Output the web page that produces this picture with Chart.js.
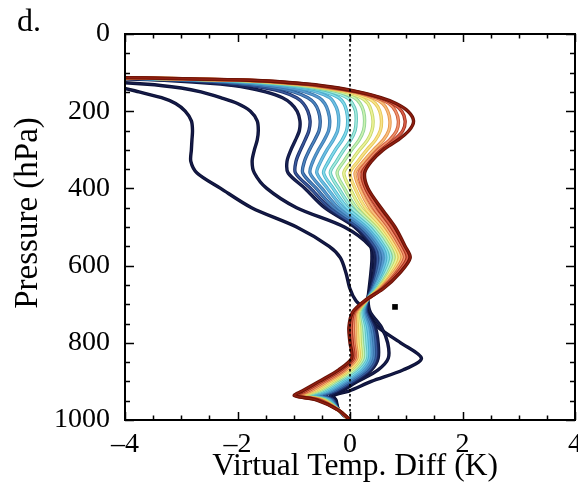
<!DOCTYPE html>
<html lang="en">
<head>
<meta charset="UTF-8">
<title>Virtual Temp. Diff profiles</title>
<script src="https://cdn.jsdelivr.net/npm/chart.js"></script>
<style>
  html, body { margin: 0; padding: 0; background: #fff; }
  #wrap { position: relative; width: 578px; height: 484px; }
  #panel { position: absolute; left: 17px; top: 2px; font: 32px/1.15 "Liberation Serif", "Times New Roman", serif; color: #000; }
</style>
</head>
<body>
<div id="wrap">
  <canvas id="chart" width="578" height="484"></canvas>
  <div id="panel">d.</div>
</div>
<script>
// pressure levels (hPa) shared by every profile
const levels = [110, 120, 130, 140, 150, 165, 180, 200, 225, 250, 275, 300, 330, 360, 400, 450, 500,
                550, 580, 620, 660, 690, 720, 760, 800, 840, 870, 900, 925, 937, 948, 975, 1000];

// virtual temperature difference (K) at each level, one array per profile
const curve01 = [-9, -7, -5.2, -4.05, -3.75, -3.35, -3.1, -2.93, -2.82, -2.8, -2.81, -2.82, -2.83, -2.72, -2.3, -1.75, -0.95, -0.37, -0.17, -0.07, 0.0, 0.1, 0.3, 0.5, 0.9, 1.27, 0.95, 0.38, -0.02, -0.3, -0.25, -0.2, 0];
const curve02 = [-8, -5, -3.6, -3.0, -2.65, -2.3, -2.0, -1.77, -1.65, -1.63, -1.65, -1.7, -1.74, -1.7, -1.48, -0.95, -0.1, 0.36, 0.39, 0.37, 0.34, 0.32, 0.36, 0.56, 0.67, 0.68, 0.5, 0.14, -0.15, -0.3, -0.26, -0.2, 0];
const curve03 = [-5.2, -3.3, -2.3, -1.8, -1.5, -1.2, -1.05, -0.94, -0.89, -0.9, -0.97, -1.05, -1.12, -1.1, -0.8, -0.45, 0.08, 0.38, 0.44, 0.42, 0.36, 0.31, 0.3, 0.45, 0.5, 0.5, 0.38, 0.1, -0.2, -0.35, -0.28, -0.2, 0];
const curve04 = [-5.2, -3.0, -2.0, -1.5, -1.2, -0.95, -0.83, -0.75, -0.71, -0.73, -0.8, -0.88, -0.96, -0.97, -0.7, -0.37, 0.13, 0.43, 0.49, 0.46, 0.38, 0.31, 0.29, 0.41, 0.46, 0.46, 0.34, 0.05, -0.25, -0.45, -0.3, -0.2, 0];
const curve05 = [-5.2, -2.8, -1.8, -1.3, -1.0, -0.75, -0.63, -0.56, -0.53, -0.55, -0.63, -0.72, -0.81, -0.84, -0.6, -0.29, 0.19, 0.48, 0.54, 0.49, 0.4, 0.3, 0.27, 0.38, 0.42, 0.42, 0.29, 0.0, -0.3, -0.52, -0.33, -0.2, 0];
const curve06 = [-5.2, -2.6, -1.6, -1.1, -0.8, -0.55, -0.45, -0.39, -0.36, -0.38, -0.46, -0.56, -0.66, -0.71, -0.5, -0.21, 0.24, 0.52, 0.59, 0.53, 0.42, 0.3, 0.25, 0.34, 0.38, 0.38, 0.25, -0.05, -0.35, -0.58, -0.35, -0.2, 0];
const curve07 = [-5.2, -2.45, -1.4, -0.9, -0.6, -0.36, -0.28, -0.22, -0.2, -0.22, -0.3, -0.41, -0.52, -0.59, -0.4, -0.13, 0.3, 0.57, 0.64, 0.56, 0.43, 0.3, 0.23, 0.31, 0.34, 0.34, 0.2, -0.1, -0.4, -0.64, -0.37, -0.2, 0];
const curve08 = [-5.2, -2.3, -1.3, -0.75, -0.45, -0.2, -0.11, -0.06, -0.04, -0.06, -0.14, -0.26, -0.38, -0.47, -0.3, -0.05, 0.35, 0.62, 0.68, 0.6, 0.45, 0.3, 0.21, 0.27, 0.3, 0.3, 0.16, -0.15, -0.45, -0.7, -0.4, -0.2, 0];
const curve09 = [-5.2, -2.2, -1.2, -0.65, -0.32, -0.05, 0.04, 0.1, 0.11, 0.09, 0.01, -0.11, -0.24, -0.35, -0.2, 0.03, 0.41, 0.66, 0.73, 0.63, 0.47, 0.3, 0.19, 0.24, 0.26, 0.27, 0.11, -0.2, -0.5, -0.75, -0.42, -0.2, 0];
const curve10 = [-5.2, -2.1, -1.1, -0.55, -0.2, 0.08, 0.18, 0.24, 0.26, 0.24, 0.16, 0.03, -0.11, -0.23, -0.1, 0.11, 0.46, 0.71, 0.78, 0.67, 0.49, 0.3, 0.17, 0.2, 0.22, 0.23, 0.07, -0.25, -0.55, -0.8, -0.45, -0.2, 0];
const curve11 = [-5.2, -2.0, -1.0, -0.48, -0.1, 0.2, 0.32, 0.38, 0.41, 0.39, 0.31, 0.17, 0.02, -0.11, 0.0, 0.19, 0.52, 0.76, 0.83, 0.7, 0.5, 0.29, 0.15, 0.17, 0.18, 0.19, 0.02, -0.3, -0.6, -0.85, -0.47, -0.2, 0];
const curve12 = [-5.2, -1.95, -0.95, -0.42, -0.02, 0.3, 0.45, 0.53, 0.56, 0.54, 0.45, 0.3, 0.14, 0.0, 0.09, 0.27, 0.57, 0.8, 0.88, 0.74, 0.52, 0.29, 0.13, 0.13, 0.14, 0.16, -0.02, -0.35, -0.65, -0.89, -0.5, -0.2, 0];
const curve13 = [-5.2, -1.9, -0.88, -0.35, 0.05, 0.4, 0.58, 0.67, 0.71, 0.69, 0.59, 0.42, 0.24, 0.09, 0.17, 0.35, 0.63, 0.85, 0.93, 0.77, 0.54, 0.29, 0.11, 0.1, 0.1, 0.12, -0.07, -0.4, -0.7, -0.92, -0.52, -0.2, 0];
const curve14 = [-5.2, -1.85, -0.82, -0.3, 0.1, 0.47, 0.69, 0.81, 0.86, 0.83, 0.7, 0.5, 0.31, 0.16, 0.23, 0.42, 0.68, 0.89, 0.97, 0.81, 0.56, 0.28, 0.09, 0.06, 0.07, 0.09, -0.11, -0.45, -0.75, -0.95, -0.55, -0.2, 0];
const curve15 = [-5.2, -1.8, -0.78, -0.25, 0.13, 0.52, 0.76, 0.92, 0.98, 0.94, 0.78, 0.56, 0.36, 0.22, 0.28, 0.49, 0.74, 0.94, 1.02, 0.84, 0.57, 0.28, 0.07, 0.02, 0.04, 0.06, -0.16, -0.5, -0.8, -0.97, -0.57, -0.2, 0];
const curve16 = [-5.2, -1.78, -0.72, -0.2, 0.15, 0.55, 0.82, 1.03, 1.13, 1.05, 0.85, 0.59, 0.38, 0.26, 0.32, 0.55, 0.8, 0.98, 1.07, 0.88, 0.59, 0.27, 0.05, -0.02, 0.0, 0.03, -0.2, -0.55, -0.85, -0.99, -0.6, -0.2, 0];

const profiles = [curve01, curve02, curve03, curve04, curve05, curve06, curve07, curve08,
                  curve09, curve10, curve11, curve12, curve13, curve14, curve15, curve16];

// zero reference line and the marker square
const zeroLine = [{ x: 0, y: 0 }, { x: 0, y: 1000 }];
const marker = [{ x: 0.8, y: 707 }];

// axis ticks
const xTicks = [-4, -2, 0, 2, 4];
const yTicks = [0, 200, 400, 600, 800, 1000];

// outline / core colour for each profile, navy through to dark red
const edgeColors = ['#0b1033', '#0c1236', '#0e1540', '#1c2f6a', '#2a5590', '#3a7bb0', '#4aa0c8', '#4cb4cc',
                    '#5ec4bc', '#90d496', '#c4d868', '#e6c658', '#e6944a', '#cc5c3a', '#a4301c', '#661206'];
const coreColors = ['#151a48', '#161c4c', '#1a2456', '#3a5a9c', '#4d86c0', '#5a9ad0', '#6fc0e4', '#88dcea',
                    '#a8ecde', '#ccf2b0', '#eef29a', '#f8e48a', '#f8c080', '#f0946e', '#d8604a', '#8e1e10'];

const serif = '"Liberation Serif", "Times New Roman", serif';

const datasets = [];
profiles.forEach((xs, i) => {
  const pts = xs.map((v, k) => ({ x: v, y: levels[k] }));
  const base = { data: pts, showLine: true, pointRadius: 0, tension: 0.3, fill: false };
  datasets.push(Object.assign({}, base, { borderColor: edgeColors[i], borderWidth: 3.4, order: 100 - 2 * i }));
  datasets.push(Object.assign({}, base, { borderColor: coreColors[i], borderWidth: 1.6, order: 99 - 2 * i }));
});
datasets.push({ data: zeroLine, showLine: true, pointRadius: 0, borderColor: '#000', borderWidth: 1.6, borderDash: [2.5, 2.5], order: 0 });
datasets.push({ data: marker, showLine: false, pointStyle: 'rect', pointRadius: 4, backgroundColor: '#000', borderColor: '#000', borderWidth: 0, order: -1 });

// frame with inward major and minor ticks on all four sides
const frameTicks = {
  id: 'frameTicks',
  afterDatasetsDraw(chart) {
    const { ctx, chartArea: a, scales: { x, y } } = chart;
    ctx.save();
    ctx.strokeStyle = '#000';
    ctx.lineWidth = 1.5;
    ctx.beginPath();
    for (let v = -4; v <= 4; v += 0.5) {
      const px = Math.round(x.getPixelForValue(v)) + 0.5;
      const len = Math.abs(v % 2) === 0 ? 8 : 4.5;
      ctx.moveTo(px, a.bottom); ctx.lineTo(px, a.bottom - len);
      ctx.moveTo(px, a.top); ctx.lineTo(px, a.top + len);
    }
    for (let p = 0; p <= 1000; p += 50) {
      const py = Math.round(y.getPixelForValue(p)) + 0.5;
      const len = p % 200 === 0 ? 9 : 5;
      ctx.moveTo(a.left, py); ctx.lineTo(a.left + len, py);
      ctx.moveTo(a.right, py); ctx.lineTo(a.right - len, py);
    }
    ctx.stroke();
    ctx.lineWidth = 2;
    ctx.strokeRect(a.left, a.top, a.right - a.left, a.bottom - a.top);
    ctx.restore();
  }
};

// axis titles, placed a little off the scale centres
const axisTitles = {
  id: 'axisTitles',
  afterDraw(chart) {
    const { ctx } = chart;
    ctx.save();
    ctx.fillStyle = '#000';
    ctx.textAlign = 'center';
    ctx.textBaseline = 'middle';
    ctx.font = '31.5px ' + serif;
    ctx.fillText('Virtual Temp. Diff (K)', 355, 467);
    ctx.font = '33px ' + serif;
    ctx.translate(28, 213);
    ctx.rotate(-Math.PI / 2);
    ctx.fillText('Pressure (hPa)', 0, 0);
    ctx.restore();
  }
};

new Chart(document.getElementById('chart'), {
  type: 'scatter',
  data: { datasets },
  plugins: [frameTicks, axisTitles],
  options: {
    responsive: false,
    animation: false,
    layout: { autoPadding: false, padding: { top: 34, right: 3, left: 0, bottom: 0 } },
    plugins: { legend: { display: false }, tooltip: { enabled: false } },
    scales: {
      x: {
        type: 'linear', min: -4, max: 4,
        afterFit: s => { s.height = 64; s.paddingLeft = 0; s.paddingRight = 0; },
        afterBuildTicks: s => { s.ticks = xTicks.map(v => ({ value: v })); },
        grid: { display: false, drawTicks: false },
        border: { display: false },
        ticks: { padding: 8, color: '#000', font: { family: serif, size: 28 },
                 callback: v => (v < 0 ? '\u2013' + Math.abs(v) : String(v)) }
      },
      y: {
        type: 'linear', min: 0, max: 1000, reverse: true,
        afterFit: s => { s.width = 125; s.paddingTop = 0; s.paddingBottom = 0; },
        afterBuildTicks: s => { s.ticks = yTicks.map(v => ({ value: v })); },
        grid: { display: false, drawTicks: false },
        border: { display: false },
        ticks: { padding: 15, color: '#000', font: { family: serif, size: 28 },
                 callback: v => String(v) }
      }
    }
  }
});
</script>
</body>
</html>
